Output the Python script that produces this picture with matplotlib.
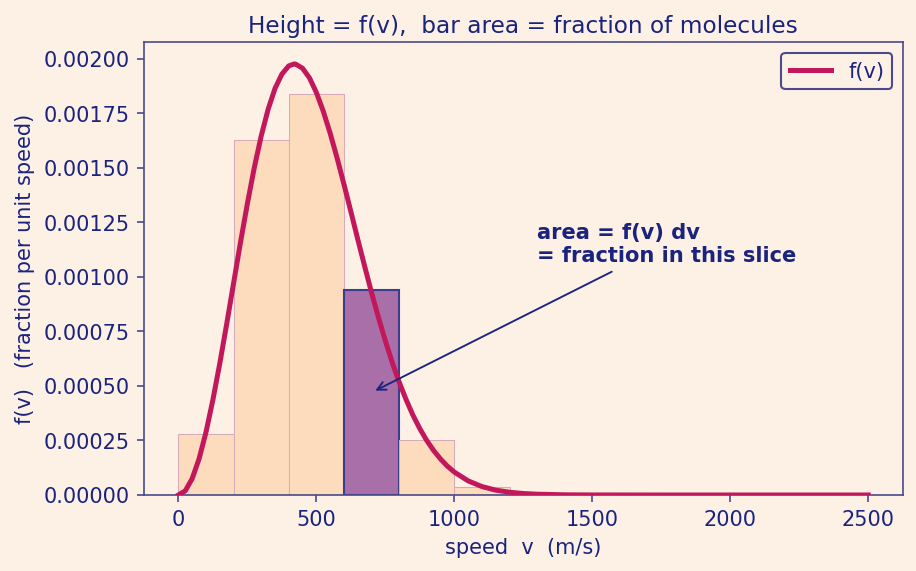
import numpy as np
import matplotlib.pyplot as plt

# colours
BG = '#fdf1e6'
NAVY = '#1a237e'
SPINE = '#4a4a8c'
CURVE = '#c2185b'
BAR = '#fddbbd'
BAR_EDGE = '#d8a9b8'
HILITE = '#a86fa8'
HILITE_EDGE = '#3d3d8f'

# histogram bins (left edges, width 200 m/s) and bar heights
bin_left = [0, 200, 400, 600, 800, 1000, 1200]
bin_height = [0.000281, 0.001626, 0.001839, 0.000938, 0.000254, 0.000035, 0.000003]
bin_width = 200
hilite_bin = 3

# f(v) curve
v_pts = [0, 25, 50, 75, 100, 125, 150, 175, 200, 225, 250, 275, 300, 325,
         350, 375, 400, 420, 425, 450, 475, 500, 525, 550, 575, 600, 625,
         650, 675, 700, 725, 750, 775, 800, 825, 850, 875, 900, 925, 950,
         975, 1000, 1050, 1100, 1150, 1200, 1250, 1300, 1400, 1500, 1750,
         2000, 2250, 2500]
f_pts = [0.0, 0.0000190, 0.0000751, 0.000166, 0.000288, 0.000436, 0.000603,
         0.000784, 0.000971, 0.001158, 0.001336, 0.001501, 0.001646, 0.001768,
         0.001864, 0.001930, 0.001968, 0.001977, 0.001976, 0.001957, 0.001913,
         0.001846, 0.001760, 0.001659, 0.001546, 0.001425, 0.001300, 0.001173,
         0.001049, 0.000928, 0.000814, 0.000707, 0.000608, 0.000518, 0.000438,
         0.000366, 0.000304, 0.000250, 0.000204, 0.000165, 0.000132, 0.000105,
         0.0000648, 0.0000387, 0.0000223, 0.0000125, 0.0000068, 0.0000036,
         0.0000009, 0.0000002, 0.0, 0.0, 0.0, 0.0]

plt.rcParams['font.family'] = ['DejaVu Sans']

fig, ax = plt.subplots(figsize=(6.11, 3.81), dpi=150)
fig.patch.set_facecolor(BG)
ax.set_facecolor(BG)
fig.subplots_adjust(left=0.157, right=0.985, top=0.925, bottom=0.133)

colors = [HILITE if i == hilite_bin else BAR for i in range(len(bin_left))]
edges = [HILITE_EDGE if i == hilite_bin else BAR_EDGE for i in range(len(bin_left))]
lws = [1.0 if i == hilite_bin else 0.5 for i in range(len(bin_left))]
ax.bar(bin_left, bin_height, width=bin_width, align='edge',
       color=colors, edgecolor=edges, linewidth=lws, zorder=2)

ax.plot(v_pts, f_pts, color=CURVE, lw=2.4, label='f(v)', zorder=3,
        solid_joinstyle='round')

ax.annotate('area = f(v) dv\n= fraction in this slice',
            xy=(700, 0.00047), xytext=(1300, 0.00107),
            fontsize=10.1, fontweight='bold', color=NAVY,
            arrowprops=dict(arrowstyle='->', color=NAVY, lw=0.9))

ax.set_title('Height = f(v),  bar area = fraction of molecules',
             color=NAVY, fontsize=11.2, pad=4.5)
ax.set_xlabel('speed  v  (m/s)', color=NAVY, fontsize=10)
ax.set_ylabel('f(v)   (fraction per unit speed)', color=NAVY, fontsize=10)
ax.tick_params(colors=SPINE, labelcolor=NAVY, labelsize=10)
for s in ax.spines.values():
    s.set_color(SPINE)

leg = ax.legend(loc='upper right', fontsize=10, facecolor=BG,
                edgecolor=SPINE, framealpha=1)
for t in leg.get_texts():
    t.set_color(NAVY)

fig.savefig('out.png', dpi=150, facecolor=BG)
